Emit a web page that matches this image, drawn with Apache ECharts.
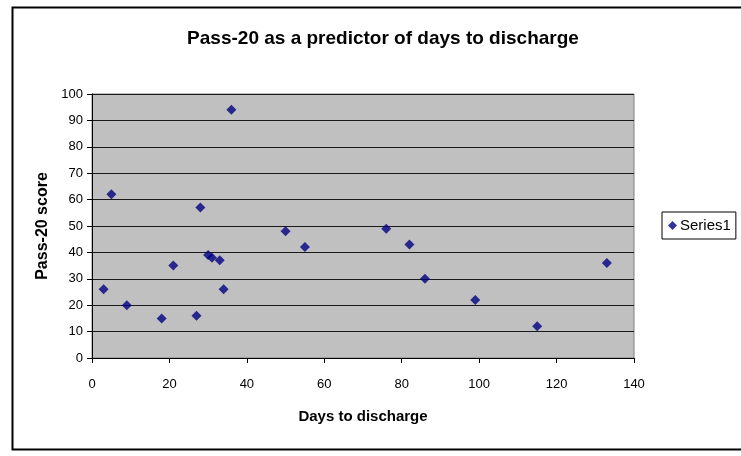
<!DOCTYPE html>
<html>
<head>
<meta charset="utf-8">
<script src="https://cdn.jsdelivr.net/npm/echarts@6/dist/echarts.min.js"></script>
<style>html,body{margin:0;padding:0;background:#fff;}#c{width:741px;height:456px;}</style>
</head>
<body>
<div id="c"></div>
<script>
const daysToDischarge = [3, 5, 9, 18, 21, 27, 28, 30, 31, 33, 34, 36, 50, 55, 76, 82, 86, 99, 115, 133];
const pass20Score =    [26, 62, 20, 15, 35, 16, 57, 39, 38, 37, 26, 94, 48, 42, 49, 43, 30, 22, 12, 36];
const seriesName = 'Series1';
const xTicks = [0, 20, 40, 60, 80, 100, 120, 140];
const yTicks = [0, 10, 20, 30, 40, 50, 60, 70, 80, 90, 100];

const points = daysToDischarge.map((d, i) => [d, pass20Score[i]]);
const font = '"Liberation Sans", Arial, sans-serif';

const chart = echarts.init(document.getElementById('c'), null, {renderer: 'canvas'});
chart.setOption({
  animation: false,
  backgroundColor: '#ffffff',
  title: {
    text: 'Pass-20 as a predictor of days to discharge',
    left: 378, top: 24, textAlign: 'center',
    textStyle: {fontFamily: font, fontWeight: 'bold', fontSize: 19, color: '#000'}
  },
  graphic: [{
    type: 'rect', left: 10, top: 5, z: 100, silent: true,
    shape: {width: 740, height: 442},
    style: {fill: 'none', stroke: '#000', lineWidth: 2}
  }],
  legend: {
    data: [{name: seriesName, icon: 'diamond'}],
    left: 662, top: 212, orient: 'vertical',
    padding: [6, 5, 6, 6],
    borderColor: '#000', borderWidth: 1,
    itemWidth: 9, itemHeight: 9, itemGap: 4,
    textStyle: {fontFamily: font, fontSize: 15, color: '#000', padding: [0, 0, 0, -2]}
  },
  grid: {
    left: 92, right: 107, top: 94, bottom: 98,
    show: true, backgroundColor: '#c0c0c0', borderColor: '#808080', borderWidth: 1
  },
  xAxis: {
    type: 'value', min: 0, max: 140, interval: 20,
    name: 'Days to discharge', nameLocation: 'middle', nameGap: 51,
    nameTextStyle: {fontFamily: font, fontWeight: 'bold', fontSize: 15, color: '#000'},
    axisLine: {show: true, onZero: false, lineStyle: {color: '#000', width: 1}},
    axisTick: {show: true, length: 5, lineStyle: {color: '#000'}},
    axisLabel: {margin: 20, fontFamily: font, fontSize: 13, color: '#000',
      formatter: v => xTicks.includes(v) ? String(v) : ''},
    splitLine: {show: false}
  },
  yAxis: {
    type: 'value', min: 0, max: 100, interval: 10,
    name: 'Pass-20 score', nameLocation: 'middle', nameGap: 41, nameRotate: 90,
    nameTextStyle: {fontFamily: font, fontWeight: 'bold', fontSize: 16, color: '#000'},
    axisLine: {show: true, onZero: false, lineStyle: {color: '#000', width: 1}},
    axisTick: {show: true, length: 5, lineStyle: {color: '#000'}},
    axisLabel: {margin: 9, fontFamily: font, fontSize: 13, color: '#000',
      formatter: v => yTicks.includes(v) ? String(v) : ''},
    splitLine: {show: true, lineStyle: {color: '#1a1a1a', width: 1}}
  },
  series: [{
    name: seriesName, type: 'scatter', data: points,
    symbol: 'diamond', symbolSize: 10,
    itemStyle: {color: '#000080'}
  }]
});
</script>
</body>
</html>
